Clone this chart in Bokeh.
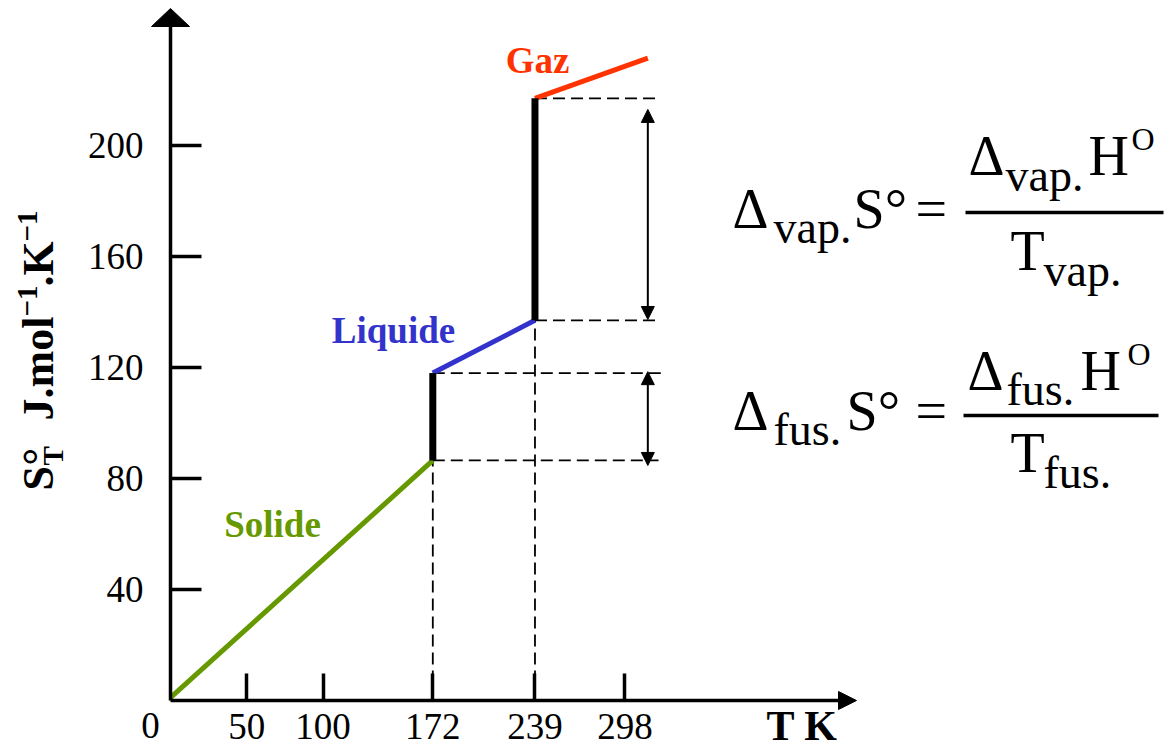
import math
from bokeh.plotting import figure
from bokeh.models import Range1d, FixedTicker, Arrow, NormalHead
from bokeh.embed import file_html
from bokeh.resources import INLINE
from bokeh.core.properties import value

# ---------------- data ----------------
T_solid = [0, 172]
S_solid = [1, 86.5]
T_liquid = [172, 239]
S_liquid = [118, 137]
T_gas = [239, 313]
S_gas = [217, 231.5]
T_transition = [172, 239]          # fusion, vaporisation
S_jump_low = [86.5, 137]
S_jump_high = [118, 217]
guide_S = [86.5, 118, 137, 217]
guide_T_start = [172, 172, 239, 239]
guide_T_end = [320, 325, 321, 321]
arrow_T = 313
arrow_fus = [118.5, 84.7]
arrow_vap = [213, 137.3]
x_ticks = [50, 100, 172, 239, 298]
y_ticks = [40, 80, 120, 160, 200]
phase_names = ["Solide", "Liquide", "Gaz"]
phase_colors = ["#669900", "#3333cc", "#ff3300"]

# ---------------- layout ----------------
W, H = 1167, 750
KX, KY = 1.525, 2.775      # px per K, px per J/mol/K
X0, Y0 = 170, 700          # page px of origin
BASE_SHIFT = 0.35          # text baseline correction (em)


def rx(px):
    return (px - X0) / KX


def ry(py):
    return (Y0 - py) / KY


SERIF = "Liberation Serif"

p = figure(width=W, height=H,
           x_range=Range1d(rx(0), rx(W)),
           y_range=Range1d(ry(H), ry(0)),
           output_backend="svg", toolbar_location=None,
           min_border=0, outline_line_color=None)
p.grid.visible = False
p.background_fill_color = "white"
p.border_fill_color = "white"

for ax, ticks, bounds, tin, stand in (
        (p.xaxis[0], x_ticks, (0, rx(842)), 27, 13),
        (p.yaxis[0], y_ticks, (0, ry(24)), 31, 27)):
    ax.fixed_location = 0
    ax.bounds = bounds
    ax.ticker = FixedTicker(ticks=ticks)
    ax.major_tick_in = tin
    ax.major_tick_out = 0
    ax.minor_tick_line_color = None
    ax.axis_line_width = 3.5
    ax.axis_line_color = "black"
    ax.major_tick_line_width = 3.5
    ax.major_tick_line_color = "black"
    ax.major_label_text_font = SERIF
    ax.major_label_text_font_size = "37px"
    ax.major_label_text_color = "black"
    ax.major_label_standoff = stand

# arrow heads of the axes
p.patches(xs=[[rx(151), rx(170), rx(189)], [rx(838), rx(856), rx(838)]],
          ys=[[ry(26), ry(8), ry(26)], [ry(691), ry(700), ry(709)]],
          fill_color="black", line_color="black")

# guide lines
dash = "12 6"
p.segment(x0=guide_T_start, y0=guide_S, x1=guide_T_end, y1=guide_S,
          line_color="black", line_width=1.8, line_dash=dash)
p.segment(x0=T_transition, y0=[0, 0], x1=T_transition, y1=S_jump_low,
          line_color="black", line_width=1.8, line_dash=dash)

# phases
p.line(T_solid, S_solid, line_color=phase_colors[0], line_width=5)
p.line(T_liquid, S_liquid, line_color=phase_colors[1], line_width=5)
p.line(T_gas, S_gas, line_color=phase_colors[2], line_width=5)
p.segment(x0=T_transition, y0=S_jump_low, x1=T_transition, y1=S_jump_high,
          line_color="black", line_width=7)

# double arrows
for a in (arrow_fus, arrow_vap):
    p.add_layout(Arrow(x_start=arrow_T, y_start=a[0], x_end=arrow_T, y_end=a[1],
                       line_width=2, line_color="black",
                       start=NormalHead(size=13, fill_color="black", line_color="black"),
                       end=NormalHead(size=13, fill_color="black", line_color="black")))


def txt(px, py, s, size, color="black", bold=False, align="left", vertical=False):
    if vertical:
        x, y, angle = rx(px - BASE_SHIFT * size), ry(py), math.pi / 2
    else:
        x, y, angle = rx(px), ry(py - BASE_SHIFT * size), 0.0
    p.text(x=[x], y=[y], text=[s], angle=angle,
           text_font=value(SERIF), text_font_size=value(f"{size}px"),
           text_font_style=value("bold" if bold else "normal"),
           text_color=color, text_align=value(align),
           text_baseline=value("alphabetic"))


# phase labels
for name, col, (px, py) in zip(phase_names, phase_colors,
                               [(272, 537), (393, 343), (537, 73)]):
    txt(px, py, name, 37, color=col, bold=True, align="center")

# axis titles
txt(766, 740, "T K", 42, bold=True)
txt(150, 738, "0", 37, align="center")
for s, bx, sy, size in [("S", 53, 490, 44), ("°", 53, 465, 44), ("T", 63, 465, 29),
                        ("J.mol", 53, 420, 44), ("\u22121", 37, 316, 29),
                        (".K", 53, 286, 44), ("\u22121", 37, 241, 29)]:
    txt(bx, sy, s, size, bold=True, vertical=True)

# formulas
formula_pieces = [
    ("Δ", 732, 228, 56), ("vap.", 773, 243, 46), ("S°", 853, 228, 56), ("=", 915, 228, 56),
    ("Δ", 968, 175, 56), ("vap.", 1005, 191, 46), ("H", 1088, 175, 56), ("O", 1131, 150, 32),
    ("T", 1010, 270, 56), ("vap.", 1043, 286, 46),
    ("Δ", 732, 430, 56), ("fus.", 773, 445, 46), ("S°", 846, 430, 56), ("=", 915, 430, 56),
    ("Δ", 967, 390, 56), ("fus.", 1006, 405, 46), ("H", 1080, 390, 56), ("O", 1127, 365, 32),
    ("T", 1010, 472, 56), ("fus.", 1043, 488, 46),
]
for s, px, py, size in formula_pieces:
    txt(px, py, s, size)
p.segment(x0=[rx(965), rx(963)], y0=[ry(212), ry(415)],
          x1=[rx(1163), rx(1158)], y1=[ry(212), ry(415)],
          line_color="black", line_width=3.5)

open("out.html", "w").write(file_html(p, INLINE))
